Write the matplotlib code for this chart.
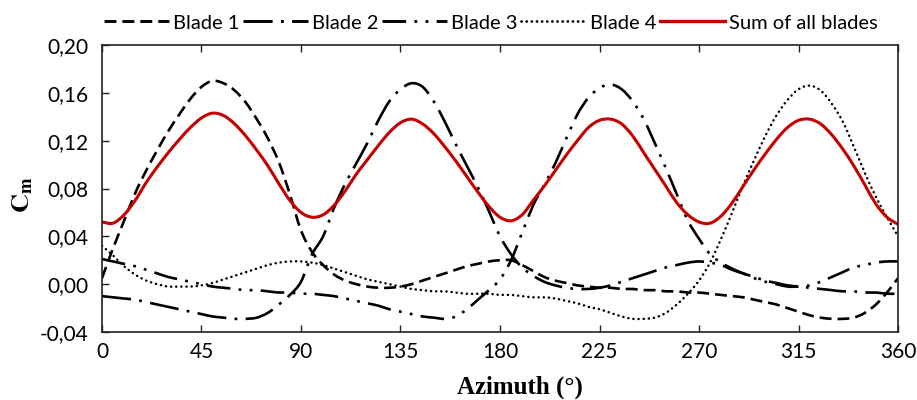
import matplotlib
matplotlib.use("Agg")
import matplotlib.pyplot as plt
import numpy as np
from matplotlib.lines import Line2D
from matplotlib.patches import PathPatch
from matplotlib.path import Path

# azimuth in degrees, 5 degree steps
azimuth = np.arange(0, 361, 5)

blade_1 = [
    0.005, 0.030, 0.053, 0.076, 0.095, 0.112, 0.128, 0.142, 0.155, 0.165,
    0.170, 0.168, 0.162, 0.152, 0.138, 0.122, 0.102, 0.075, 0.045, 0.027,
    0.016, 0.008, 0.003, 0.000, -0.002, -0.003, -0.003, -0.002, 0.000, 0.003,
    0.006, 0.009, 0.012, 0.015, 0.017, 0.019, 0.020, 0.020, 0.016, 0.011,
    0.006, 0.003, 0.001, -0.001, -0.002, -0.003, -0.003, -0.004, -0.004, -0.005,
    -0.005, -0.006, -0.006, -0.007, -0.007, -0.008, -0.009, -0.010, -0.011, -0.013,
    -0.015, -0.017, -0.020, -0.023, -0.026, -0.028, -0.029, -0.029, -0.028, -0.024,
    -0.017, -0.007, 0.005,
]

blade_2 = [
    -0.010, -0.011, -0.012, -0.013, -0.015, -0.017, -0.019, -0.021, -0.023, -0.025,
    -0.027, -0.028, -0.029, -0.029, -0.028, -0.024, -0.017, -0.009, 0.002, 0.025,
    0.040, 0.064, 0.084, 0.101, 0.118, 0.137, 0.153, 0.163, 0.168, 0.165,
    0.153, 0.136, 0.117, 0.099, 0.081, 0.061, 0.040, 0.025, 0.014, 0.007,
    0.002, -0.001, -0.003, -0.004, -0.004, -0.003, -0.001, 0.002, 0.005, 0.008,
    0.011, 0.014, 0.016, 0.018, 0.019, 0.018, 0.016, 0.012, 0.009, 0.006,
    0.003, 0.001, -0.001, -0.002, -0.003, -0.004, -0.005, -0.006, -0.006, -0.007,
    -0.007, -0.008, -0.008,
]

blade_3 = [
    0.021, 0.019, 0.017, 0.015, 0.012, 0.009, 0.006, 0.004, 0.002, 0.000,
    -0.002, -0.003, -0.004, -0.005, -0.005, -0.006, -0.007, -0.007, -0.008, -0.008,
    -0.009, -0.010, -0.012, -0.014, -0.016, -0.018, -0.021, -0.023, -0.025, -0.027,
    -0.028, -0.029, -0.027, -0.021, -0.013, -0.005, 0.004, 0.020, 0.043, 0.066,
    0.083, 0.101, 0.122, 0.142, 0.156, 0.164, 0.167, 0.163, 0.153, 0.138,
    0.118, 0.097, 0.075, 0.053, 0.038, 0.025, 0.018, 0.013, 0.009, 0.005,
    0.002, 0.000, -0.002, -0.002, -0.001, 0.002, 0.006, 0.010, 0.014, 0.016,
    0.018, 0.019, 0.019,
]

blade_4 = [
    0.032, 0.024, 0.015, 0.008, 0.003, 0.000, -0.002, -0.002, -0.002, -0.001,
    0.001, 0.004, 0.007, 0.010, 0.013, 0.016, 0.018, 0.019, 0.019, 0.018,
    0.016, 0.013, 0.010, 0.007, 0.004, 0.002, 0.000, -0.002, -0.004, -0.005,
    -0.006, -0.006, -0.007, -0.008, -0.008, -0.008, -0.009, -0.009, -0.010, -0.011,
    -0.011, -0.012, -0.014, -0.016, -0.019, -0.021, -0.024, -0.027, -0.029, -0.029,
    -0.028, -0.024, -0.017, -0.008, 0.003, 0.018, 0.038, 0.060, 0.083, 0.104,
    0.124, 0.141, 0.154, 0.163, 0.166, 0.162, 0.151, 0.136, 0.115, 0.093,
    0.073, 0.056, 0.040,
]

blade_sum = [
    0.052, 0.051, 0.058, 0.070, 0.085, 0.098, 0.110, 0.121, 0.131, 0.139,
    0.143, 0.141, 0.134, 0.124, 0.112, 0.099, 0.084, 0.070, 0.060, 0.056,
    0.058, 0.066, 0.078, 0.092, 0.104, 0.116, 0.127, 0.135, 0.138, 0.134,
    0.126, 0.115, 0.103, 0.090, 0.077, 0.065, 0.056, 0.053, 0.058, 0.070,
    0.082, 0.095, 0.108, 0.120, 0.131, 0.137, 0.138, 0.134, 0.124, 0.110,
    0.096, 0.082, 0.068, 0.058, 0.052, 0.051, 0.057, 0.068, 0.082, 0.096,
    0.109, 0.121, 0.131, 0.137, 0.138, 0.134, 0.125, 0.113, 0.099, 0.083,
    0.067, 0.056, 0.050,
]

x_ticks = [0, 45, 90, 135, 180, 225, 270, 315, 360]
y_ticks = [-0.04, 0.00, 0.04, 0.08, 0.12, 0.16, 0.20]

plt.rcParams["font.family"] = ["Lato", "DejaVu Sans"]
plt.rcParams["lines.scale_dashes"] = False
plt.rcParams["mathtext.fontset"] = "stix"


def smooth_path(x, y):
    """Bezier path through every point (spreadsheet-style smoothed line)."""
    pts = np.column_stack([x, y]).astype(float)
    tan = np.empty_like(pts)
    tan[1:-1] = (pts[2:] - pts[:-2]) / 2
    tan[0] = pts[1] - pts[0]
    tan[-1] = pts[-1] - pts[-2]
    verts = [pts[0]]
    codes = [Path.MOVETO]
    for i in range(len(pts) - 1):
        verts += [pts[i] + tan[i] / 3, pts[i + 1] - tan[i + 1] / 3, pts[i + 1]]
        codes += [Path.CURVE4] * 3
    return Path(verts, codes)


fig = plt.figure(figsize=(9.17, 4.0), dpi=100)
ax = fig.add_axes([0.1112, 0.17, 0.8681, 0.7175])

series = [
    (blade_1, "Blade 1", "black", 1.9, (0, (8.6, 4.3)), "butt"),
    (blade_2, "Blade 2", "black", 1.9, (0, (21.0, 6.0, 2.0, 6.0)), "butt"),
    (blade_3, "Blade 3", "black", 1.9,
     (0, (17.0, 6.0, 2.0, 6.0, 2.0, 6.0)), "butt"),
    (blade_4, "Blade 4", "black", 1.8, (0, (0.1, 3.6)), "round"),
    (blade_sum, "Sum of all blades", "#c40000", 2.2, "solid", "butt"),
]

handles = []
for values, name, color, width, style, cap in series:
    patch = PathPatch(smooth_path(azimuth, values), fill=False,
                      edgecolor=color, lw=width, linestyle=style,
                      capstyle=cap, joinstyle="round")
    ax.add_patch(patch)
    handles.append(Line2D([], [], color=color, lw=width + 0.2, linestyle=style,
                          dash_capstyle=cap, label=name))

ax.set_xlim(0, 360)
ax.set_ylim(-0.04, 0.20)
ax.set_xticks(x_ticks)
ax.set_yticks(y_ticks)
ax.set_yticklabels([f"{v:.2f}".replace(".", ",") for v in y_ticks])
ax.tick_params(axis="x", direction="in", top=True, length=5, width=1.0,
               labelsize=15, pad=7, color="#222222")
ax.tick_params(axis="y", direction="in", length=5, width=1.0,
               labelsize=15, pad=10, color="#222222")
for s in ax.spines.values():
    s.set_linewidth(1.2)
    s.set_color("#222222")

ax.set_xlabel("Azimuth (°)", family="Liberation Serif", fontweight="bold",
              fontsize=18)
ax.xaxis.set_label_coords(0.525, -0.153)
ax.set_ylabel(r"$\mathbf{C_m}$", fontsize=19)
ax.yaxis.set_label_coords(-0.084, 0.479)

fig.legend(handles=handles, loc="center",
           bbox_to_anchor=(491 / 917, 1 - 23 / 400), ncol=5,
           frameon=False, fontsize=14.5, handlelength=3.2, handletextpad=0.2,
           columnspacing=0.2, borderpad=0)

fig.savefig("out.png", dpi=100)
